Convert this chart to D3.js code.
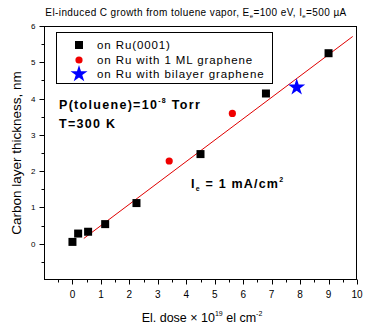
<!DOCTYPE html>
<html><head><meta charset="utf-8">
<script src="https://cdn.jsdelivr.net/npm/d3@7"></script>
<style>body{margin:0;background:#fff}svg{display:block;font-family:Arial,"Liberation Sans",sans-serif}</style>
</head><body>
<script>
// Carbon layer thickness (nm) vs electron dose (10^19 el/cm^2)
const ruDose = [0, 0.2, 0.55, 1.15, 2.25, 4.5, 6.8, 9.0];
const ruThick = [0.05, 0.28, 0.33, 0.54, 1.12, 2.47, 4.14, 5.25];
const mlDose = [3.4, 5.62];
const mlThick = [2.28, 3.59];
const blDose = [7.88];
const blThick = [4.31];
// linear fit of the Ru(0001) data
const fitSlope = 0.589, fitIntercept = -0.09, fitRange = [0.4, 9.85];
const xTicks = [0,1,2,3,4,5,6,7,8,9,10];
const yTicks = [0,1,2,3,4,5,6];
const legendLabels = ["on Ru(0001)", "on Ru with 1 ML graphene", "on Ru with bilayer graphene"];

const W = 374, H = 331;
const svg = d3.select("body").append("svg").attr("width", W).attr("height", H);
const x = d3.scaleLinear().domain([-1, 10]).range([44, 357]);
const y = d3.scaleLinear().domain([-1, 6]).range([280, 26]);

// frame
svg.append("rect").attr("x", 44.5).attr("y", 26.5).attr("width", 312).attr("height", 253)
  .attr("fill", "none").attr("stroke", "#000").attr("stroke-width", 1);

// bottom axis: majors labelled, minors at halves
const xg = svg.append("g").attr("transform", "translate(0,279.5)");
xg.selectAll("line").data(d3.range(-0.5, 10.01, 0.5)).join("line")
  .attr("x1", d => Math.round(x(d)) + 0.5).attr("x2", d => Math.round(x(d)) + 0.5)
  .attr("y1", 0).attr("y2", d => Number.isInteger(d) ? 5 : 3).attr("stroke", "#000");
xg.selectAll("text").data(xTicks).join("text")
  .attr("x", d => x(d)).attr("y", 18).attr("text-anchor", "middle")
  .attr("font-size", 10).text(d => d);

// left axis
const yg = svg.append("g").attr("transform", "translate(44.5,0)");
yg.selectAll("line").data(d3.range(-0.5, 6.01, 0.5)).join("line")
  .attr("y1", d => Math.round(y(d)) + 0.5).attr("y2", d => Math.round(y(d)) + 0.5)
  .attr("x1", 0).attr("x2", d => Number.isInteger(d) ? -5 : -3).attr("stroke", "#000");
yg.selectAll("text").data(yTicks).join("text")
  .attr("x", -9).attr("y", d => y(d) + 3).attr("text-anchor", "end")
  .attr("font-size", 8).text(d => d);

// fit line
svg.append("line")
  .attr("x1", x(fitRange[0])).attr("y1", y(fitIntercept + fitSlope * fitRange[0]))
  .attr("x2", x(fitRange[1])).attr("y2", y(fitIntercept + fitSlope * fitRange[1]))
  .attr("stroke", "#e00000").attr("stroke-width", 1);

// markers
svg.selectAll(".ru").data(ruDose).join("rect").attr("class", "ru")
  .attr("x", (d, i) => x(d) - 4).attr("y", (d, i) => y(ruThick[i]) - 4)
  .attr("width", 8).attr("height", 8).attr("fill", "#000");
svg.selectAll(".ml").data(mlDose).join("circle").attr("class", "ml")
  .attr("cx", d => x(d)).attr("cy", (d, i) => y(mlThick[i])).attr("r", 3.6).attr("fill", "#f00000");
const star = d3.symbol().type(d3.symbolStar).size(90);
svg.selectAll(".bl").data(blDose).join("path").attr("class", "bl")
  .attr("d", star).attr("transform", (d, i) => `translate(${x(d)},${y(blThick[i])})`)
  .attr("fill", "#0000ff");

// legend
const lg = svg.append("g");
lg.append("rect").attr("x", 56.5).attr("y", 32.5).attr("width", 216).attr("height", 51)
  .attr("fill", "#fff").attr("stroke", "#000");
const rowY = [45, 60, 74];
lg.append("rect").attr("x", 75).attr("y", rowY[0] - 4).attr("width", 8).attr("height", 8).attr("fill", "#000");
lg.append("circle").attr("cx", 79).attr("cy", rowY[1]).attr("r", 3.6).attr("fill", "#f00000");
lg.append("path").attr("d", star).attr("transform", `translate(79,${rowY[2]})`).attr("fill", "#0000ff");
lg.selectAll("text").data(legendLabels).join("text")
  .attr("x", 97).attr("y", (d, i) => rowY[i] + 4).attr("font-size", 11.5)
  .attr("letter-spacing", 0.9).text(d => d);

// title
const t = svg.append("text").attr("x", 196).attr("y", 16).attr("text-anchor", "middle")
  .attr("font-size", 10).attr("letter-spacing", 0.4);
t.append("tspan").text("El-induced  C growth from toluene vapor, E");
t.append("tspan").attr("font-size", 6).attr("dy", 2).text("e");
t.append("tspan").attr("dy", -2).text("=100 eV, I");
t.append("tspan").attr("font-size", 6).attr("dy", 2).text("e");
t.append("tspan").attr("dy", -2).text("=500 µA");

// annotations
const p = svg.append("text").attr("x", 59).attr("y", 109).attr("font-size", 12.5)
  .attr("font-weight", "bold").attr("letter-spacing", 1.3);
p.append("tspan").text("P(toluene)=10");
p.append("tspan").attr("font-size", 7).attr("dy", -6).text("-8");
p.append("tspan").attr("dy", 6).text(" Torr");
svg.append("text").attr("x", 59).attr("y", 128).attr("font-size", 12.5).attr("font-weight", "bold")
  .attr("letter-spacing", 1.3).text("T=300 K");
const ie = svg.append("text").attr("x", 191).attr("y", 188).attr("font-size", 12.5)
  .attr("font-weight", "bold").attr("letter-spacing", 1.2);
ie.append("tspan").text("I");
ie.append("tspan").attr("font-size", 7).attr("dy", 3).text("e");
ie.append("tspan").attr("dy", -3).text(" = 1 mA/cm");
ie.append("tspan").attr("font-size", 7).attr("dy", -6).text("2");

// axis titles
svg.append("text").attr("transform", "translate(21,153) rotate(-90)").attr("text-anchor", "middle")
  .attr("font-size", 13.5).text("Carbon layer thickness, nm");
const xl = svg.append("text").attr("x", 202).attr("y", 322).attr("text-anchor", "middle").attr("font-size", 12.5);
xl.append("tspan").text("El. dose × 10");
xl.append("tspan").attr("font-size", 7).attr("dy", -6).text("19");
xl.append("tspan").attr("dy", 6).text(" el cm");
xl.append("tspan").attr("font-size", 7).attr("dy", -6).text("-2");
</script>
</body></html>
